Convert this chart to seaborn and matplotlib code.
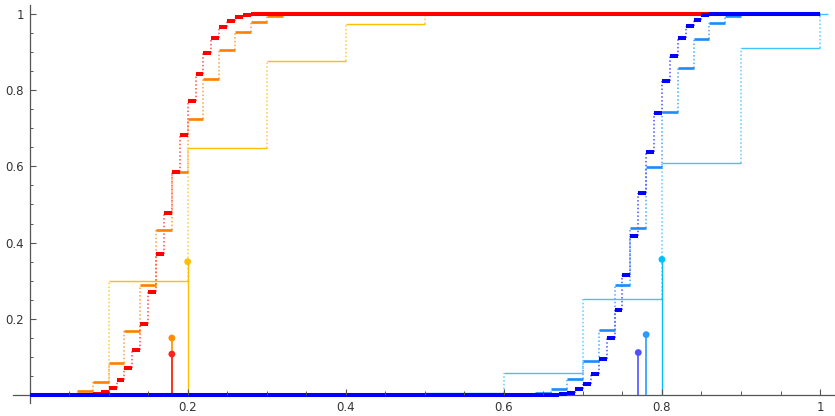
import numpy as np
import pandas as pd
import matplotlib
matplotlib.use("Agg")
import matplotlib.pyplot as plt
import seaborn as sns

# step edges (left edge of every step, last item = end of last step) and the CDF level of each step
red_edges = [0.0, 0.07, 0.08, 0.09, 0.10, 0.11, 0.12, 0.13, 0.14, 0.15, 0.16, 0.17, 0.18,
             0.19, 0.20, 0.21, 0.22, 0.23, 0.24, 0.25, 0.26, 0.27, 0.28, 0.29, 1.0]
red_cdf = [0.0, 0.001, 0.003, 0.008, 0.019, 0.040, 0.0715, 0.119, 0.186, 0.270, 0.369, 0.477,
           0.584, 0.683, 0.770, 0.842, 0.897, 0.937, 0.964, 0.980, 0.992, 0.997, 0.999, 1.0]

orange_edges = [0.0, 0.04, 0.06, 0.08, 0.10, 0.12, 0.14, 0.16, 0.18, 0.20, 0.22, 0.24, 0.26,
                0.28, 0.30, 0.32, 0.34, 1.0]
orange_cdf = [0.0, 0.002, 0.010, 0.034, 0.085, 0.168, 0.290, 0.434, 0.584, 0.723, 0.829,
              0.905, 0.951, 0.979, 0.993, 0.998, 1.0]

yellow_edges = [0.0, 0.1, 0.2, 0.3, 0.4, 0.5, 0.6, 1.0]
yellow_cdf = [0.0, 0.300, 0.648, 0.876, 0.972, 0.998, 1.0]

blue_edges = [0.0, 0.66, 0.67, 0.68, 0.69, 0.70, 0.71, 0.72, 0.73, 0.74, 0.75, 0.76, 0.77,
              0.78, 0.79, 0.80, 0.81, 0.82, 0.83, 0.84, 0.85, 0.86, 1.0]
blue_cdf = [0.0, 0.001, 0.003, 0.007, 0.0165, 0.0305, 0.056, 0.094, 0.149, 0.223, 0.314,
            0.417, 0.529, 0.638, 0.739, 0.824, 0.890, 0.937, 0.966, 0.984, 0.995, 1.0]

mid_edges = [0.0, 0.62, 0.64, 0.66, 0.68, 0.70, 0.72, 0.74, 0.76, 0.78, 0.80, 0.82, 0.84,
             0.86, 0.88, 0.90, 1.0]
mid_cdf = [0.0, 0.002, 0.007, 0.017, 0.043, 0.091, 0.171, 0.290, 0.438, 0.597, 0.743,
           0.857, 0.932, 0.974, 0.9935, 1.0]

light_edges = [0.0, 0.5, 0.6, 0.7, 0.8, 0.9, 1.0, 1.01]
light_cdf = [0.0, 0.006, 0.059, 0.251, 0.608, 0.910, 1.0]

# stems at the mode of each series
stem_x = [0.20, 0.18, 0.18, 0.80, 0.78, 0.77]
stem_y = [0.350, 0.150, 0.108, 0.356, 0.159, 0.112]

tick_major = [0.2, 0.4, 0.6, 0.8, 1.0]
tick_labels = ["0.2", "0.4", "0.6", "0.8", "1"]

sns.set_style("white")
plt.rcParams['font.family'] = ['DejaVu Sans']

fig = plt.figure(figsize=(8.35, 4.16), dpi=100)
ax = fig.add_axes([0, 0, 1, 1])


def draw_steps(edges, cdf, color, lw, dot_color):
    e = np.array(edges)
    c = np.array(cdf)
    # dotted jumps
    ax.vlines(e[1:-1], c[:-1], c[1:], colors=dot_color, linewidth=1.1,
              linestyles=(0, (1, 1.5)), zorder=2)
    ax.hlines(c, e[:-1], e[1:], colors=color, linewidth=lw, zorder=3)


series = [
    (yellow_edges, yellow_cdf, "#FFBF00", 1.0, "#FFC940", "#FFBF00", 1.0),
    (orange_edges, orange_cdf, "#FF8000", 1.9, "#FFA040", "#FF8C00", 1.2),
    (red_edges, red_cdf, "#FF0000", 2.9, "#FF5050", "#FF2020", 1.2),
    (light_edges, light_cdf, "#40C4FF", 1.0, "#60CCFF", "#00BFFF", 1.0),
    (mid_edges, mid_cdf, "#1A8CFF", 1.9, "#50A8FF", "#2A9AFF", 1.2),
    (blue_edges, blue_cdf, "#0000FF", 2.9, "#5050FF", "#5050FF", 1.2),
]

for i, (ed, cd, col, lw, dcol, scol, slw) in enumerate(series):
    draw_steps(ed, cd, col, lw, dcol)
    ax.vlines(stem_x[i], 0, stem_y[i], colors=scol, linewidth=slw, zorder=3)
    pts = pd.DataFrame({"x": [stem_x[i]], "y": [stem_y[i]]})
    sns.scatterplot(data=pts, x="x", y="y", ax=ax, color=scol, s=24,
                    edgecolor="none", zorder=4, legend=False)

# axes like the original (axes crossing at the origin)
ax.set_xlim(-0.0374, 1.0189)
ax.set_ylim(-0.0542, 1.0354)
for s in ["top", "right"]:
    ax.spines[s].set_visible(False)
ax.spines["left"].set_position(("data", 0))
ax.spines["bottom"].set_position(("data", 0))
ax.spines["left"].set_bounds(-0.02, 1.022)
ax.spines["bottom"].set_bounds(-0.021, 1.02)
for s in ["left", "bottom"]:
    ax.spines[s].set_color("#555555")
    ax.spines[s].set_linewidth(0.9)

ax.set_xticks(tick_major)
ax.set_xticklabels(tick_labels)
ax.set_yticks(tick_major)
ax.set_yticklabels(tick_labels)
minor = [v / 20 for v in range(1, 21) if v % 4 != 0]
ax.set_xticks(minor, minor=True)
ax.set_yticks(minor, minor=True)
ax.tick_params(which="both", bottom=True, left=True, top=False, right=False)
ax.tick_params(which="major", direction="in", length=4, width=0.8, color="#555555",
               labelsize=8.5, labelcolor="#333333", pad=4)
ax.tick_params(which="minor", direction="in", length=2.2, width=0.7, color="#555555")
ax.tick_params(axis="x", which="major", length=4)
ax.tick_params(axis="x", which="minor", length=3)
ax.xaxis.set_zorder(5)
ax.set_xlabel("")
ax.set_ylabel("")

fig.savefig("out.png", dpi=100)
